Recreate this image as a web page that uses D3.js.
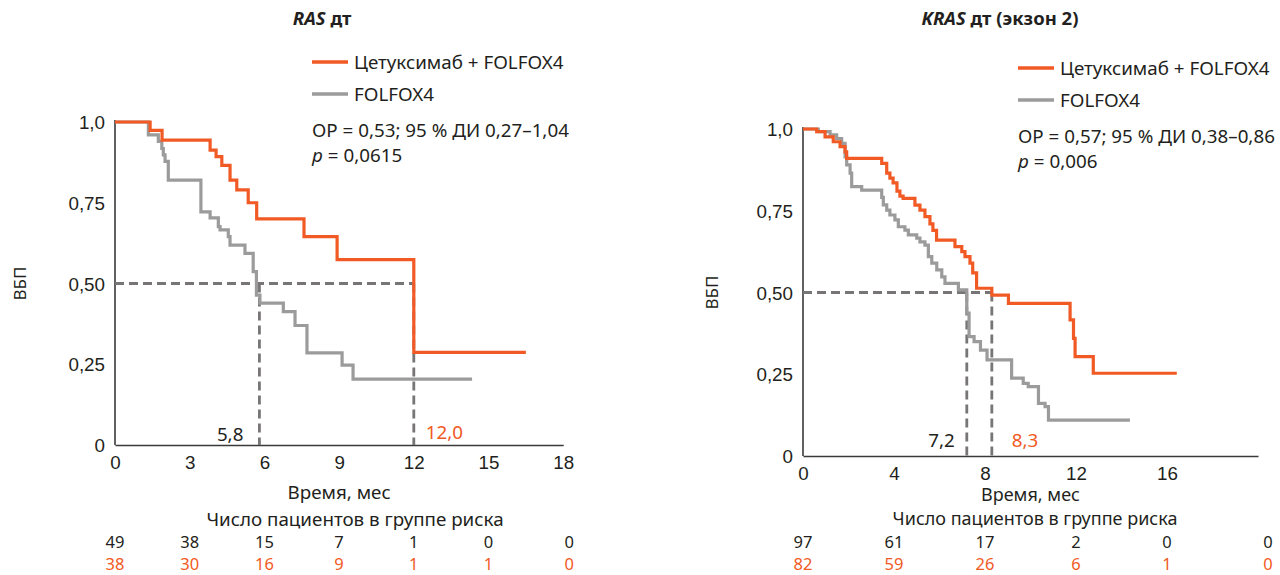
<!DOCTYPE html>
<html><head><meta charset="utf-8">
<script src="https://cdn.jsdelivr.net/npm/d3@7/dist/d3.min.js"></script>
<style>
body{margin:0;background:#fff;}
svg{font-family:"Noto Sans","Open Sans",sans-serif;}
</style></head>
<body><svg id="c" width="1280" height="575"></svg>
<script>
// ---------- DATA ----------
// Left panel: RAS wt
const rasTitle = ["RAS", " дт"];
const rasXTicks = [0, 3, 6, 9, 12, 15, 18];
const rasYTicks = [0, 0.25, 0.5, 0.75, 1.0];
const rasYTickLabels = ["0", "0,25", "0,50", "0,75", "1,0"];
// Kaplan-Meier steps: time of event, survival after event
const rasCetuxT = [1.41, 1.89, 3.82, 4.06, 4.29, 4.62, 4.89, 5.35, 5.69, 7.59, 8.92, 12.0];
const rasCetuxS = [0.974, 0.944, 0.913, 0.893, 0.866, 0.82, 0.79, 0.75, 0.70, 0.645, 0.574, 0.287];
const rasCetuxEnd = 16.5;
const rasFolT = [1.34, 1.74, 1.88, 1.94, 2.01, 2.14, 3.45, 3.82, 4.15, 4.22, 4.55, 4.62, 5.22, 5.55, 5.68, 5.82, 6.76, 7.23, 7.71, 9.12, 9.56];
const rasFolS = [0.96, 0.94, 0.918, 0.898, 0.878, 0.82, 0.722, 0.703, 0.676, 0.666, 0.645, 0.619, 0.593, 0.537, 0.464, 0.439, 0.413, 0.37, 0.285, 0.247, 0.204];
const rasFolEnd = 14.34;
const rasMedians = [5.8, 12.0];
const rasMedianLabels = ["5,8", "12,0"];
const rasStats = ["ОР = 0,53; 95 % ДИ 0,27–1,04", "0,0615"];
const rasRiskFol = [49, 38, 15, 7, 1, 0, 0];
const rasRiskCetux = [38, 30, 16, 9, 1, 1, 0];

// Right panel: KRAS wt (exon 2)
const krasTitle = ["KRAS", " дт (экзон 2)"];
const krasXTicks = [0, 4, 8, 12, 16];
const krasRiskTimes = [0, 4, 8, 12, 16, 20];
const krasYTicks = [0, 0.25, 0.5, 0.75, 1.0];
const krasYTickLabels = ["0", "0,25", "0,50", "0,75", "1,0"];
const krasCetuxT = [0.6, 0.97, 1.33, 1.63, 1.85, 1.92, 3.46, 3.68, 3.82, 3.96, 4.13, 4.26, 4.4, 4.92, 5.14, 5.36, 5.58, 5.71, 5.87, 6.68, 6.98, 7.12, 7.34, 7.46, 7.63, 8.3, 9.03, 11.74, 11.89, 11.96, 12.76];
const krasCetuxS = [0.992, 0.976, 0.961, 0.946, 0.93, 0.91, 0.895, 0.865, 0.85, 0.835, 0.81, 0.795, 0.788, 0.767, 0.752, 0.732, 0.71, 0.69, 0.66, 0.64, 0.625, 0.61, 0.59, 0.56, 0.513, 0.492, 0.467, 0.416, 0.36, 0.304, 0.253];
const krasCetuxEnd = 16.43;
const krasFolT = [0.67, 1.19, 1.48, 1.7, 1.85, 1.92, 2.07, 2.14, 2.58, 3.46, 3.53, 3.68, 3.82, 4.04, 4.19, 4.48, 4.63, 5.0, 5.14, 5.36, 5.51, 5.66, 5.88, 6.1, 6.24, 6.83, 7.2, 7.3, 7.52, 7.8, 8.09, 9.17, 9.68, 9.9, 10.35, 10.64, 10.79];
const krasFolS = [0.992, 0.982, 0.971, 0.956, 0.915, 0.89, 0.865, 0.824, 0.813, 0.791, 0.768, 0.752, 0.737, 0.722, 0.701, 0.691, 0.676, 0.666, 0.655, 0.645, 0.61, 0.59, 0.569, 0.548, 0.528, 0.508, 0.437, 0.365, 0.35, 0.324, 0.294, 0.238, 0.222, 0.212, 0.161, 0.151, 0.11];
const krasFolEnd = 14.37;
const krasMedians = [7.2, 8.3];
const krasMedianLabels = ["7,2", "8,3"];
const krasStats = ["ОР = 0,57; 95 % ДИ 0,38–0,86", "0,006"];
const krasRiskFol = [97, 61, 17, 2, 0, 0];
const krasRiskCetux = [82, 59, 26, 6, 1, 0];

const legendLabels = ["Цетуксимаб + FOLFOX4", "FOLFOX4"];
const xAxisLabel = "Время, мес";
const riskLabel = "Число пациентов в группе риска";
const yAxisLabel = "ВБП";

// ---------- STYLE ----------
const ORANGE = "#f15a24", GRAY = "#9b9b9b", DASH = "#777575", TXT = "#231f20", AXIS = "#3a3a3a";
const FS = 18.8;
const FS_RISK = 16.5;

const svg = d3.select("#c");

function kmPoints(T, S, end) {
  const pts = [[0, 1]];
  T.forEach((t, i) => pts.push([t, S[i]]));
  pts.push([end, S[S.length - 1]]);
  return pts;
}

function panel(cfg) {
  const g = svg.append("g");
  const x = d3.scaleLinear().domain(cfg.xDomain).range(cfg.xRange);
  const y = d3.scaleLinear().domain([0, 1]).range(cfg.yRange);

  // title
  const tt = g.append("text").attr("x", cfg.titleX).attr("y", cfg.titleY)
    .attr("text-anchor", "middle").attr("font-size", 18.5).attr("font-weight", "bold").attr("fill", TXT);
  tt.append("tspan").attr("font-style", "italic").text(cfg.title[0]);
  tt.append("tspan").text(cfg.title[1]);

  // axes
  const xAxis = d3.axisBottom(x).tickValues(cfg.xTicks).tickSize(0).tickPadding(cfg.xTickPad).tickFormat(d3.format("d"));
  const gx = g.append("g").attr("transform", `translate(0,${y(0)})`).call(xAxis);
  gx.select(".domain").attr("stroke", AXIS).attr("stroke-width", 1.6);
  gx.selectAll("text").attr("font-size", FS).attr("fill", TXT).attr("font-family", null);

  const yAxis = d3.axisLeft(y).tickValues(cfg.yTicks).tickSize(0).tickPadding(10)
    .tickFormat((d, i) => cfg.yTickLabels[i]);
  const gy = g.append("g").attr("transform", `translate(${x(0)},0)`).call(yAxis);
  gy.select(".domain").attr("stroke", AXIS).attr("stroke-width", 1.6).attr("d", `M0,${y(1) - 2}V${y(0)}`);
  gy.selectAll("text").attr("font-size", FS).attr("fill", TXT).attr("font-family", null).attr("dy", "0.35em");

  // y label
  g.append("text").attr("transform", `translate(${cfg.yLabelX},${y(0.5)}) rotate(-90)`)
    .attr("text-anchor", "middle").attr("dy", "0.35em").attr("font-size", 17).attr("fill", TXT).text(yAxisLabel);

  // median dashed lines
  const dash = g.append("g").attr("stroke", DASH).attr("stroke-width", 2.8).attr("stroke-dasharray", "9,5").attr("fill", "none");
  dash.append("line").attr("x1", x(0)).attr("x2", x(d3.max(cfg.medians))).attr("y1", y(0.5)).attr("y2", y(0.5));
  cfg.medians.forEach(m => dash.append("line").attr("x1", x(m)).attr("x2", x(m)).attr("y1", y(0.5)).attr("y2", y(0)));

  // curves
  const line = d3.line().x(d => x(d[0])).y(d => y(d[1])).curve(d3.curveStepAfter);
  g.append("path").attr("d", line(kmPoints(cfg.folT, cfg.folS, cfg.folEnd)))
    .attr("fill", "none").attr("stroke", GRAY).attr("stroke-width", 3.2);
  g.append("path").attr("d", line(kmPoints(cfg.cetT, cfg.cetS, cfg.cetEnd)))
    .attr("fill", "none").attr("stroke", ORANGE).attr("stroke-width", 3.2);

  // median labels
  g.append("text").attr("x", x(cfg.medians[0]) + cfg.medLab[0].dx).attr("y", y(0) + cfg.medLab[0].dy)
    .attr("text-anchor", "end").attr("font-size", FS).attr("fill", TXT).text(cfg.medianLabels[0]);
  g.append("text").attr("x", x(cfg.medians[1]) + cfg.medLab[1].dx).attr("y", y(0) + cfg.medLab[1].dy)
    .attr("text-anchor", "start").attr("font-size", FS).attr("fill", ORANGE).text(cfg.medianLabels[1]);

  // legend
  const L = cfg.legend;
  [ORANGE, GRAY].forEach((c, i) => {
    const yy = L.y + i * 32;
    g.append("line").attr("x1", L.x).attr("x2", L.x + 36).attr("y1", yy).attr("y2", yy)
      .attr("stroke", c).attr("stroke-width", 3.5);
    g.append("text").attr("x", L.x + 42).attr("y", yy).attr("dy", "0.35em")
      .attr("font-size", FS).attr("fill", TXT).text(legendLabels[i]);
  });
  g.append("text").attr("x", L.x).attr("y", L.y + 68).attr("dy", "0.35em")
    .attr("font-size", FS).attr("fill", TXT).text(cfg.stats[0]);
  const pt = g.append("text").attr("x", L.x).attr("y", L.y + 93).attr("dy", "0.35em")
    .attr("font-size", FS).attr("fill", TXT);
  pt.append("tspan").attr("font-style", "italic").text("p");
  pt.append("tspan").text(" = " + cfg.stats[1]);

  // x label + risk table
  const cx = (cfg.xRange[0] + cfg.xRange[1]) / 2;
  g.append("text").attr("x", cx).attr("y", cfg.xLabelY).attr("dy", "0.35em").attr("text-anchor", "middle")
    .attr("font-size", cfg.xLabelFS).attr("fill", TXT).text(xAxisLabel);
  g.append("text").attr("x", cfg.riskLabelX).attr("y", 519).attr("dy", "0.35em").attr("text-anchor", "middle")
    .attr("font-size", cfg.xLabelFS).attr("fill", TXT).text(riskLabel);
  cfg.riskTimes.forEach((t, i) => {
    const xx = x(t) + (i === cfg.riskTimes.length - 1 ? cfg.lastRiskDx : 0);
    g.append("text").attr("x", xx).attr("y", 542).attr("dy", "0.35em")
      .attr("text-anchor", "middle").attr("font-size", FS_RISK).attr("fill", TXT).text(cfg.riskFol[i]);
    g.append("text").attr("x", xx).attr("y", 564).attr("dy", "0.35em")
      .attr("text-anchor", "middle").attr("font-size", FS_RISK).attr("fill", ORANGE).text(cfg.riskCet[i]);
  });
}

panel({
  title: rasTitle, titleX: 322, titleY: 25,
  xDomain: [0, 18], xRange: [115, 563.2], yRange: [445, 122],
  xTicks: rasXTicks, xTickPad: 11, yTicks: rasYTicks, yTickLabels: rasYTickLabels,
  yLabelX: 20,
  cetT: rasCetuxT, cetS: rasCetuxS, cetEnd: rasCetuxEnd,
  folT: rasFolT, folS: rasFolS, folEnd: rasFolEnd,
  medians: rasMedians, medianLabels: rasMedianLabels,
  medLab: [{dx: -16, dy: -4}, {dx: 12, dy: -6}],
  legend: {x: 312, y: 62}, stats: rasStats,
  xLabelY: 492, xLabelFS: 18.8, riskLabelX: 355,
  riskTimes: rasXTicks, riskFol: rasRiskFol, riskCet: rasRiskCetux, lastRiskDx: 6
});

panel({
  title: krasTitle, titleX: 1000, titleY: 25,
  xDomain: [0, 20], xRange: [803, 1258], yRange: [456, 129],
  xTicks: krasXTicks, xTickPad: 11, yTicks: krasYTicks, yTickLabels: krasYTickLabels,
  yLabelX: 712,
  cetT: krasCetuxT, cetS: krasCetuxS, cetEnd: krasCetuxEnd,
  folT: krasFolT, folS: krasFolS, folEnd: krasFolEnd,
  medians: krasMedians, medianLabels: krasMedianLabels,
  medLab: [{dx: -12, dy: -9}, {dx: 20, dy: -9}],
  legend: {x: 1018, y: 68}, stats: krasStats,
  xLabelY: 495, xLabelFS: 18, riskLabelX: 1035,
  riskTimes: krasRiskTimes, riskFol: krasRiskFol, riskCet: krasRiskCetux, lastRiskDx: 10
});
</script></body></html>
